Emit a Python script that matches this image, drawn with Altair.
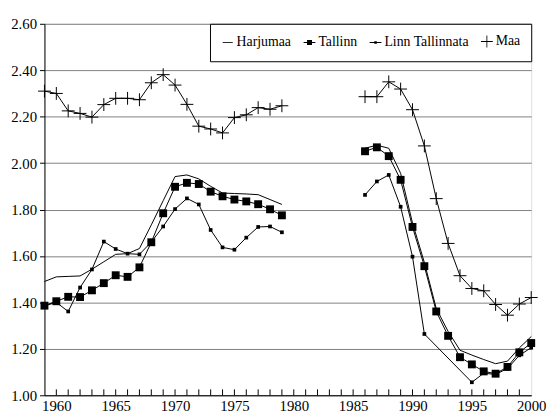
import altair as alt
import pandas as pd

years = list(range(1959, 2001))
series_names = ["Harjumaa", "Tallinn", "Linn Tallinnata", "Maa"]

G = [None] * 6  # 1980-1985 gap

harjumaa = [1.490, 1.510, 1.512, 1.514, 1.543, 1.575, 1.607, 1.610, 1.632, 1.734,
            1.838, 1.942, 1.949, 1.932, 1.900, 1.871, 1.869, 1.867, 1.864, 1.843, 1.822] + G + \
           [2.064, 2.077, 2.064, 1.956, 1.742, 1.572, 1.374, 1.275, 1.194, 1.173,
            1.154, 1.136, 1.147, 1.204, 1.253]
tallinn = [1.386, 1.405, 1.424, 1.423, 1.452, 1.483, 1.517, 1.510, 1.551, 1.659,
           1.784, 1.898, 1.915, 1.910, 1.877, 1.857, 1.843, 1.835, 1.823, 1.801, 1.775] + G + \
          [2.051, 2.068, 2.030, 1.928, 1.725, 1.556, 1.361, 1.256, 1.164, 1.133,
           1.103, 1.093, 1.122, 1.185, 1.225]
linn_tallinnata = [1.385, 1.400, 1.361, 1.464, 1.542, 1.662, 1.630, 1.610, 1.607, 1.660,
                   1.727, 1.802, 1.848, 1.822, 1.712, 1.637, 1.627, 1.679, 1.725, 1.727, 1.702] + G + \
                  [1.863, 1.921, 1.949, 1.812, 1.597, 1.264, None, None, None, 1.056,
                   1.095, 1.090, 1.115, 1.172, 1.205]
maa = [2.310, 2.300, 2.225, 2.214, 2.198, 2.252, 2.279, 2.279, 2.273, 2.346,
       2.381, 2.336, 2.253, 2.159, 2.147, 2.130, 2.196, 2.208, 2.239, 2.232, 2.247] + G + \
      [2.286, 2.286, 2.350, 2.319, 2.230, 2.074, 1.847, 1.654, 1.515, 1.460,
       1.450, 1.391, 1.345, 1.393, 1.421]

y_ticks = [1.0, 1.2, 1.4, 1.6, 1.8, 2.0, 2.2, 2.4, 2.6]
x_labels = [1960, 1965, 1970, 1975, 1980, 1985, 1990, 1995, 2000]
minor_ticks = list(range(1960, 2000))

rows = []
for name, vals in zip(series_names, [harjumaa, tallinn, linn_tallinnata, maa]):
    for yr, v in zip(years, vals):
        if v is not None:
            rows.append({"year": yr, "value": v, "series": name,
                         "seg": name + ("_a" if yr < 1982 else "_b")})
df = pd.DataFrame(rows)
ticks_df = pd.DataFrame({"year": minor_ticks})

FONT = "Times New Roman, Liberation Serif, serif"

x_enc = alt.X("year:Q",
              scale=alt.Scale(domain=[1959, 2000], nice=False, zero=False),
              axis=alt.Axis(values=x_labels, format="d", ticks=False, grid=False,
                            title=None, labelFlush=False, labelFont=FONT,
                            labelFontSize=15, labelColor="black", labelPadding=3,
                            domainColor="black"))
y_enc = alt.Y("value:Q",
              scale=alt.Scale(domain=[1.0, 2.6], nice=False, zero=False),
              axis=alt.Axis(values=y_ticks, format=".2f", grid=True,
                            gridColor="#808080", gridWidth=1, tickSize=5,
                            tickColor="black", domainColor="black", title=None,
                            labelFont=FONT, labelFontSize=15, labelColor="black",
                            labelPadding=3))

base = alt.Chart(df)

lines = base.mark_line(color="black", strokeWidth=1).encode(
    x=x_enc, y=y_enc, detail="seg:N")

pts_tallinn = base.transform_filter(alt.datum.series == "Tallinn").mark_point(
    shape="square", filled=True, color="black", size=64, opacity=1).encode(x="year:Q", y="value:Q")
pts_linn = base.transform_filter(alt.datum.series == "Linn Tallinnata").mark_point(
    shape="square", filled=True, color="black", size=14, opacity=1).encode(x="year:Q", y="value:Q")
pts_maa = base.transform_filter(alt.datum.series == "Maa").mark_point(
    shape="M-1,0H1M0,-1V1", filled=False, color="black", size=170, strokeWidth=1,
    opacity=1).encode(x="year:Q", y="value:Q")

h = "M-1,-0.07H1V0.07H-1Z"
legend_shapes = [
    "M-0.85,-0.07H0.85V0.07H-0.85Z",
    h + "M-0.42,-0.42H0.42V0.42H-0.42Z",
    h + "M-0.22,-0.22H0.22V0.22H-0.22Z",
    h + "M-0.07,-1H0.07V1H-0.07Z",
]

legend_layer = base.transform_filter("datum.year < 0").mark_point(
    filled=True, color="black", opacity=1).encode(
    x="year:Q", y="value:Q",
    shape=alt.Shape("series:N",
                    scale=alt.Scale(domain=series_names, range=legend_shapes),
                    legend=alt.Legend(title=None, orient="top-right", direction="horizontal",
                                      offset=0, padding=11, strokeColor="black",
                                      fillColor="white", labelFont=FONT, labelFontSize=14,
                                      labelColor="black", labelOffset=2, columnPadding=9,
                                      symbolSize=144, symbolFillColor="black",
                                      symbolOpacity=1)))

tick_marks = alt.Chart(ticks_df).mark_rule(color="black", strokeWidth=1).encode(
    x="year:Q", y=alt.value(377), y2=alt.value(371))

chart = alt.layer(lines, tick_marks, pts_tallinn, pts_linn, pts_maa, legend_layer).properties(
    width=494, height=377,
    padding={"left": 37, "top": 13, "right": 15, "bottom": 18},
    autosize=alt.AutoSizeParams(type="none"),
).configure_view(stroke="#808080", strokeWidth=1).configure(background="white")

chart.save("out.html", embed_options={"renderer": "svg", "actions": False})
